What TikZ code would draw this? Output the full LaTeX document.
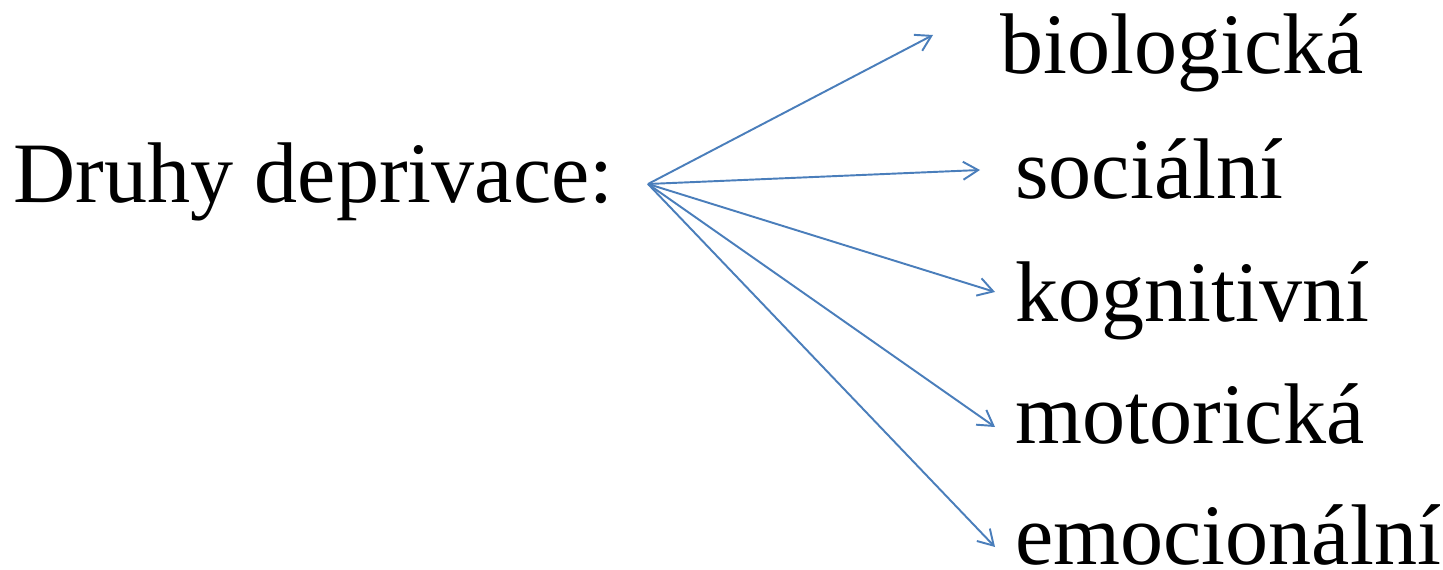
\documentclass[tikz,border=0pt]{standalone}
\usepackage{fontspec}
\setmainfont{Liberation Serif}
\usetikzlibrary{positioning, arrows.meta}
\definecolor{fanblue}{HTML}{4A7EBB}

\tikzset{
  druh/.style={anchor=base west, inner sep=0pt, font=\fontsize{49}{59}\selectfont},
  fanarrow/.style={draw=fanblue, line width=1.1pt,
    -{Straight Barb[length=3mm, width=3.6mm, line width=1.1pt]}}
}

\begin{document}
\begin{tikzpicture}[x=0.02cm, y=-0.02cm]
\useasboundingbox (0,0) rectangle (1443,570);
% heading and the kinds
\node[druh] (druhy) at (13,203) {Druhy deprivace:};
\node[druh] (bio) at (1000,74) {biologická};
\node[druh] (soc) at (1015,199) {sociální};
\node[druh] (kog) at (1015,322) {kognitivní};
\node[druh] (mot) at (1015,444) {motorická};
\node[druh] (emo) at (1015,564) {emocionální};
% fan of arrows
\coordinate (fan) at (648,184);
\coordinate (tbio) at (933,35);
\coordinate (tsoc) at (980,170);
\coordinate (tkog) at (995,292);
\coordinate (tmot) at (995,427);
\coordinate (temo) at (995,547);
\foreach \t in {tbio,tsoc,tkog,tmot,temo}
  \draw[fanarrow] (fan) -- (\t);
\end{tikzpicture}
\end{document}
